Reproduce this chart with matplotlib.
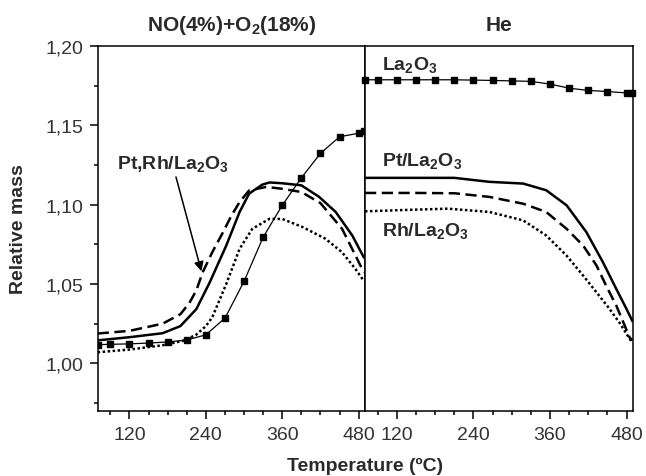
"""Relative mass vs temperature: NO+O2 uptake (left) and He desorption (right)."""
import matplotlib
matplotlib.use("Agg")
import matplotlib.pyplot as plt

# ---- data ----
# left panel: NO(4%)+O2(18%)
LA_NO_T = [70, 90, 120, 150, 180, 210, 240, 270, 300, 330, 360, 390, 420, 450, 480, 488]
LA_NO_M = [1.0118, 1.012, 1.0123, 1.0128, 1.0135, 1.0147, 1.018, 1.0285, 1.0517, 1.0795,
           1.0996, 1.1169, 1.1323, 1.1428, 1.145, 1.1464]

PT_NO_T = [70, 120, 172, 200, 225, 246, 272, 293, 308, 329, 340, 360, 390, 418, 444, 470, 488]
PT_NO_M = [1.0145, 1.0165, 1.019, 1.0235, 1.0342, 1.051, 1.0742, 1.0954, 1.107, 1.1127,
           1.114, 1.1135, 1.1122, 1.1049, 1.0954, 1.0806, 1.0669]

PTRH_NO_T = [70, 120, 172, 200, 214, 225, 235, 250, 267, 280, 293, 308, 335, 360, 390, 420, 454, 475, 488]
PTRH_NO_M = [1.0188, 1.0205, 1.025, 1.031, 1.038, 1.046, 1.0574, 1.070, 1.0827, 1.093, 1.1017,
             1.109, 1.1112, 1.110, 1.108, 1.101, 1.0848, 1.068, 1.0574]

RH_NO_T = [70, 120, 172, 203, 224, 240, 250, 272, 293, 313, 340, 360, 392, 428, 454, 475, 488]
RH_NO_M = [1.007, 1.0087, 1.0114, 1.0141, 1.0178, 1.0235, 1.029, 1.050, 1.0722, 1.0848,
           1.0911, 1.091, 1.0859, 1.0785, 1.070, 1.0595, 1.052]

# right panel: He
LA_HE_T = [70, 90, 120, 150, 180, 210, 240, 270, 300, 330, 360, 390, 420, 450, 480, 488]
LA_HE_M = [1.1787, 1.1787, 1.1787, 1.1787, 1.1787, 1.1787, 1.1785, 1.1783, 1.178, 1.1777,
           1.176, 1.1734, 1.172, 1.1713, 1.1704, 1.1704]

PT_HE_T = [70, 150, 210, 265, 318, 354, 386, 417, 443, 464, 480, 489]
PT_HE_M = [1.1169, 1.1169, 1.1169, 1.1144, 1.1133, 1.1091, 1.0996, 1.0827, 1.0637, 1.0468, 1.0342, 1.0268]

PTRH_HE_T = [70, 150, 210, 265, 318, 354, 386, 412, 433, 448, 464, 485, 489]
PTRH_HE_M = [1.1074, 1.1074, 1.1072, 1.1049, 1.1006, 1.0954, 1.0848, 1.0742, 1.0616, 1.0489,
             1.0363, 1.0162, 1.0145]

RH_HE_T = [70, 120, 200, 265, 318, 354, 386, 412, 433, 452, 470, 487]
RH_HE_M = [1.0958, 1.0965, 1.0975, 1.0954, 1.0901, 1.0806, 1.0679, 1.0553, 1.0447, 1.035, 1.025, 1.0141]

Y_TICKS = [1.00, 1.05, 1.10, 1.15, 1.20]
Y_TICK_LABELS = ["1,00", "1,05", "1,10", "1,15", "1,20"]
Y_MINOR = [0.975, 1.025, 1.075, 1.125, 1.175]
X_TICKS = [120, 240, 360, 480]
X_TICK_LABELS = ["120", "240", "360", "480"]
X_MINOR = [90, 150, 180, 210, 270, 300, 330, 390, 420, 450]

TEXT_COLOR = "#2a2a2a"
FONT = "Liberation Sans"

plt.rcParams.update({
    "font.family": FONT,
    "mathtext.fontset": "custom",
    "mathtext.rm": "Liberation Sans:bold",
    "mathtext.it": "Liberation Sans:bold",
    "mathtext.bf": "Liberation Sans:bold",
    "axes.linewidth": 1.1,
    "text.color": TEXT_COLOR,
})

LINE_KW = dict(color="black", linewidth=1.8)
DASH = (0, (4.5, 2.2))
DOT = (0, (1.0, 1.0))


def style_axis(ax, show_y):
    ax.set_xlim(70, 490)
    ax.set_ylim(0.97, 1.20)
    ax.set_xticks(X_TICKS)
    ax.set_xticklabels(X_TICK_LABELS)
    ax.set_xticks(X_MINOR, minor=True)
    ax.tick_params(axis="both", which="major", direction="out", length=5.5, width=1.1,
                   labelsize=14, labelcolor="#333333", pad=5)
    ax.tick_params(axis="both", which="minor", direction="out", length=3.2, width=1.1)
    if show_y:
        ax.set_yticks(Y_TICKS)
        ax.set_yticklabels(Y_TICK_LABELS)
        ax.set_yticks(Y_MINOR, minor=True)
    else:
        ax.set_yticks([])
        ax.set_yticks([], minor=True)
    for spine in ax.spines.values():
        spine.set_color("black")


def main():
    fig = plt.figure(figsize=(6.46, 4.77), dpi=100)
    ax1 = fig.add_axes([0.1512, 0.1363, 0.4138, 0.7652])
    ax2 = fig.add_axes([0.5650, 0.1363, 0.4148, 0.7652])

    # left panel
    ax1.plot(LA_NO_T, LA_NO_M, color="black", linewidth=0.9, marker="s", markersize=4.3)
    ax1.plot(PT_NO_T, PT_NO_M, linestyle="-", **LINE_KW)
    ax1.plot(PTRH_NO_T, PTRH_NO_M, linestyle=DASH, **LINE_KW)
    ax1.plot(RH_NO_T, RH_NO_M, linestyle=DOT, **LINE_KW)

    # right panel
    ax2.plot(LA_HE_T, LA_HE_M, color="black", linewidth=0.9, marker="s", markersize=4.3,
             clip_on=False)
    ax2.plot(PT_HE_T, PT_HE_M, linestyle="-", **LINE_KW)
    ax2.plot(PTRH_HE_T, PTRH_HE_M, linestyle=DASH, **LINE_KW)
    ax2.plot(RH_HE_T, RH_HE_M, linestyle=DOT, **LINE_KW)

    style_axis(ax1, True)
    style_axis(ax2, False)

    label_kw = dict(fontsize=14, fontweight="bold", color=TEXT_COLOR, ha="left", va="baseline")
    ax2.text(96, 1.1856, "La$_2$O$_3$", **label_kw)
    ax2.text(96, 1.1249, "Pt/La$_2$O$_3$", **label_kw)
    ax2.text(97, 1.0810, "Rh/La$_2$O$_3$", **label_kw)
    ax1.text(100, 1.1232, "Pt,Rh/La$_2$O$_3$", **label_kw)
    ax1.annotate("", xy=(233, 1.058), xytext=(193, 1.1175),
                 arrowprops=dict(arrowstyle="-|>", color="black", lw=1.1,
                                 mutation_scale=14, shrinkA=0, shrinkB=0))

    title_kw = dict(fontsize=15, fontweight="bold", color=TEXT_COLOR, ha="center", va="baseline")
    fig.text(0.358, 0.936, "NO(4%)+O$_2$(18%)", **title_kw)
    fig.text(0.772, 0.936, "He", **title_kw)

    fig.text(0.565, 0.023, "Temperature (ºC)", fontsize=14, fontweight="bold",
             color=TEXT_COLOR, ha="center", va="center")
    fig.text(0.029, 0.519, "Relative mass", fontsize=14, fontweight="bold",
             color=TEXT_COLOR, ha="center", va="center", rotation=90)

    fig.savefig("out.png", dpi=100)
    plt.close(fig)


if __name__ == "__main__":
    main()
